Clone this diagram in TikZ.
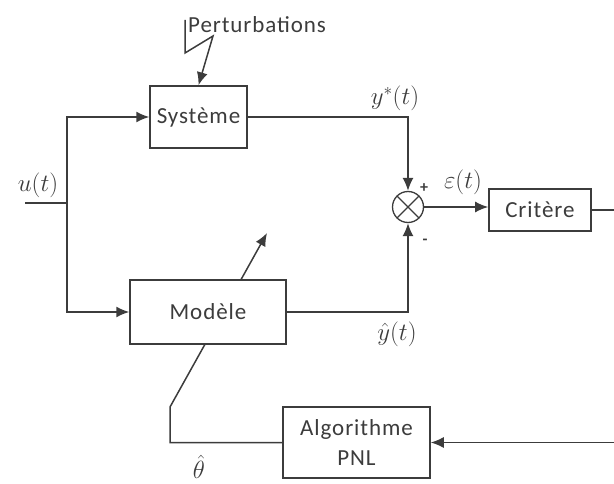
\documentclass[tikz,border=0pt]{standalone}
\usepackage{fontspec}
\setmainfont{Carlito}[LetterSpace=4]
\usetikzlibrary{arrows.meta,positioning,calc,backgrounds}
\definecolor{idgray}{RGB}{60,60,60}
\tikzset{
  block/.style={rectangle, draw=idgray, line width=1.5pt, fill=white, align=center, inner sep=0pt, text=idgray, font=\fontsize{23}{30}\selectfont},
  summer/.style={circle, draw=idgray, line width=1.3pt, fill=white, minimum size=31pt, inner sep=0pt,
    path picture={\draw[idgray, line width=1.3pt] (path picture bounding box.north west) -- (path picture bounding box.south east)
      (path picture bounding box.north east) -- (path picture bounding box.south west);}},
  arrow/.style={-{Latex[length=13pt,width=11pt]}, line width=1.5pt, draw=idgray},
  line/.style={line width=1.5pt, draw=idgray},
  siglabel/.style={inner sep=0pt, text=idgray, font=\fontsize{26}{28}\selectfont},
  signlabel/.style={inner sep=0pt, text=idgray, font=\fontsize{16}{18}\selectfont\bfseries}
}
\begin{document}
\begin{tikzpicture}[x=1pt, y=1pt]
\useasboundingbox (0,0) rectangle (614,-484);
\node[block, minimum width=97pt, minimum height=62pt] (sys) at (198.5,-117) {Système};
\node[block, minimum width=156pt, minimum height=64pt] (mod) at (208,-312) {Modèle};
\node[summer] (sum) at (408,-207) {};
\node[block, minimum width=102pt, minimum height=42pt, right=64pt of sum, yshift=-3pt] (crit) {Critère};
\node[block, minimum width=147pt, minimum height=71pt] (algo) at (356.5,-442.5) {Algorithme\\PNL};
\node[anchor=west, inner sep=0pt, text=idgray, font=\fontsize{23}{26}\selectfont] (pert) at (188,-25) {Perturbations};
\node[siglabel] (ulab) at (38,-185) {$u(t)$};
\node[siglabel] (ylab) at (395,-98) {$y^{*}(t)$};
\node[siglabel] (yhlab) at (397,-334) {$\hat{y}(t)$};
\node[siglabel] (elab) at (463,-182) {$\varepsilon(t)$};
\node[signlabel] (plus) at (424,-188) {+};
\node[signlabel] (minus) at (425,-242) {-};
\node[siglabel] (thlab) at (199,-467) {$\hat{\theta}$};
\coordinate (uin) at (25,-203);
\coordinate (split) at (67,-203);
\coordinate (pz) at (185,-20);
\coordinate (tbend) at (170,-407);
\coordinate (ttip) at (267,-233);
\coordinate (rtop) at ($(crit.east)+(23,0)$);
\coordinate (rbot) at (rtop |- algo);
% connectors
\draw[line] (uin) -- (split);
\draw[arrow] (split) |- (sys.west);
\draw[arrow] (split) |- (mod.west);
\draw[arrow] (pz) -- ++(0,-33) -- ++(28,17) -- (sys.north);
\draw[arrow] (sys.east) -| (sum.north);
\draw[arrow] (mod.east) -| (sum.south);
\draw[arrow] (sum.east) -- (sum.east -| crit.west);
\draw[line] (crit.east) -- (rtop);
\draw[arrow] (rbot) -- (algo.east);
\begin{scope}[on background layer]
\draw[arrow] (algo.west) -| (tbend) -- (ttip);
\end{scope}
\end{tikzpicture}
\end{document}
